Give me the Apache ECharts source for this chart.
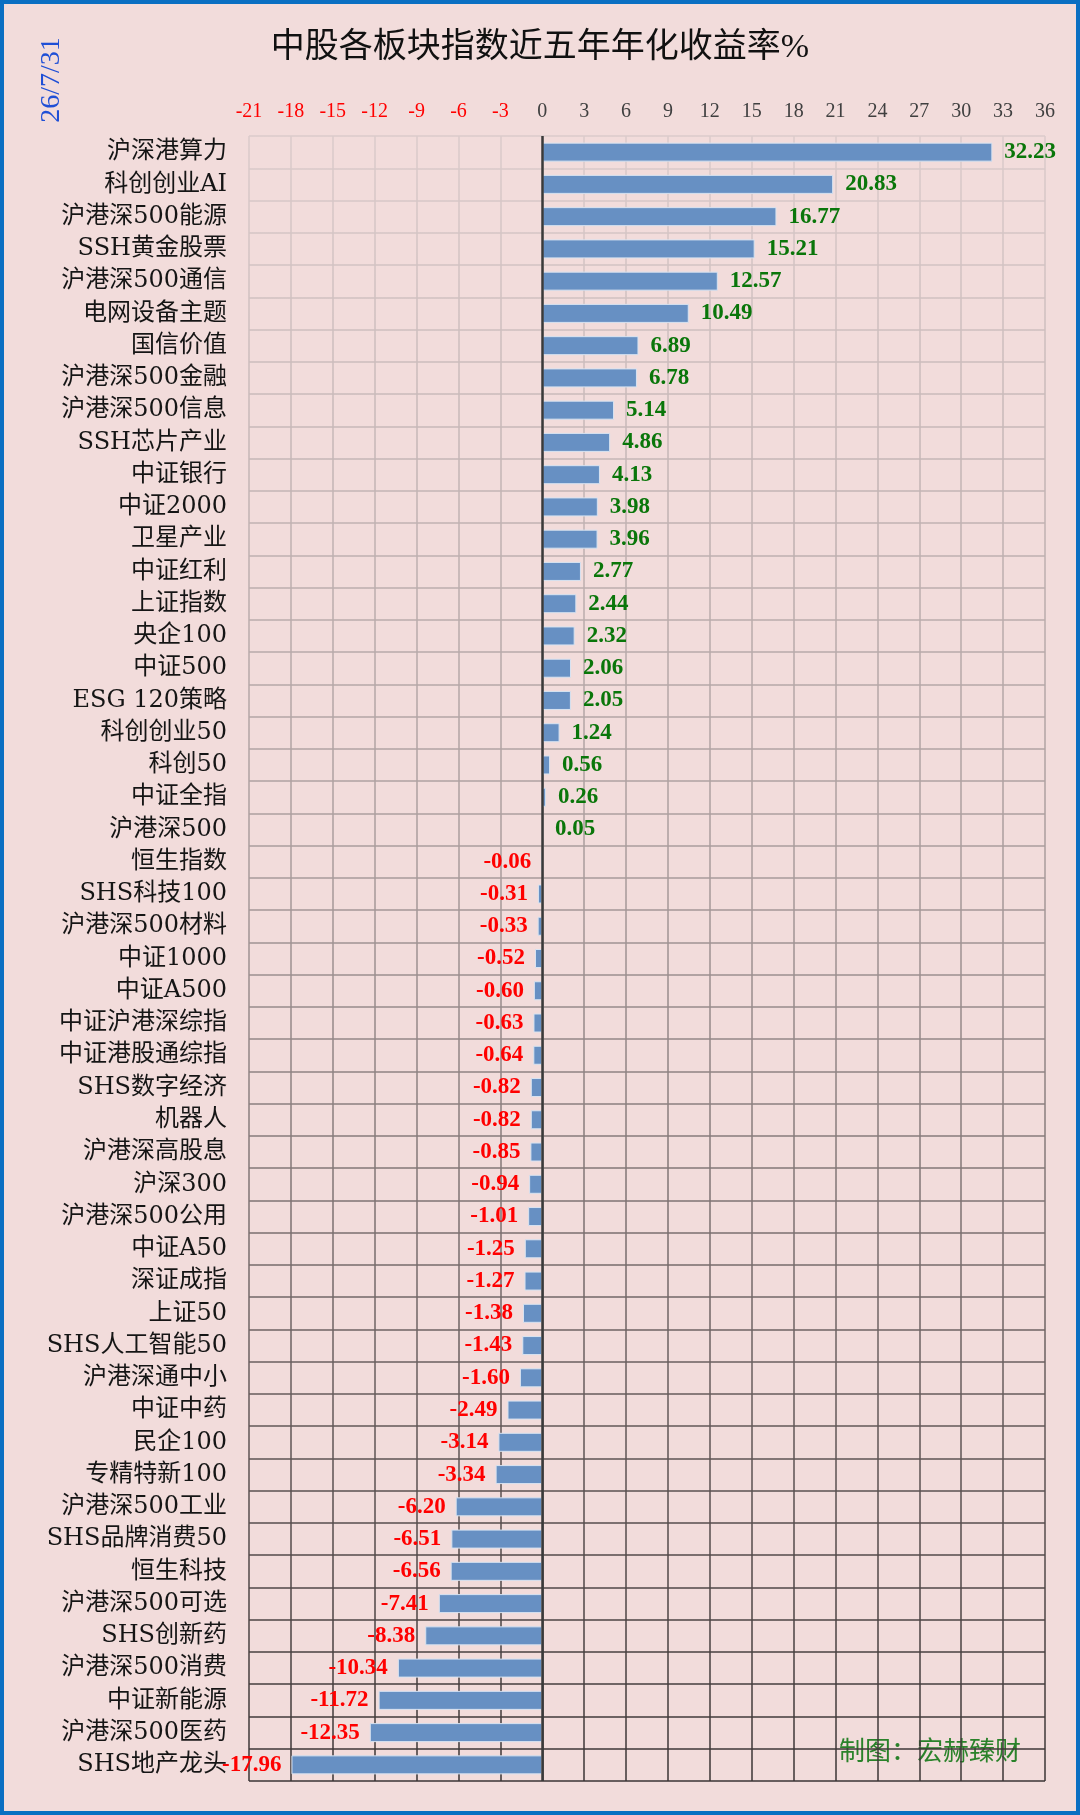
<!DOCTYPE html>
<html>
<head>
<meta charset="utf-8">
<title>中股各板块指数近五年年化收益率%</title>
<script src="https://cdn.jsdelivr.net/npm/echarts@6/dist/echarts.min.js"></script>
<style>
    html, body { margin: 0; padding: 0; background: #f2dcdb; }
    #main { width: 1080px; height: 1815px; }
</style>
</head>
<body>
<div id="main"></div>
<script>
// 板块名称（从上到下）
var categories = [
    '沪深港算力', '科创创业AI', '沪港深500能源', 'SSH黄金股票', '沪港深500通信',
    '电网设备主题', '国信价值', '沪港深500金融', '沪港深500信息', 'SSH芯片产业',
    '中证银行', '中证2000', '卫星产业', '中证红利', '上证指数',
    '央企100', '中证500', 'ESG 120策略', '科创创业50', '科创50',
    '中证全指', '沪港深500', '恒生指数', 'SHS科技100', '沪港深500材料',
    '中证1000', '中证A500', '中证沪港深综指', '中证港股通综指', 'SHS数字经济',
    '机器人', '沪港深高股息', '沪深300', '沪港深500公用', '中证A50',
    '深证成指', '上证50', 'SHS人工智能50', '沪港深通中小', '中证中药',
    '民企100', '专精特新100', '沪港深500工业', 'SHS品牌消费50', '恒生科技',
    '沪港深500可选', 'SHS创新药', '沪港深500消费', '中证新能源', '沪港深500医药',
    'SHS地产龙头'
];

// 近五年年化收益率 %
var returns = [
    32.23, 20.83, 16.77, 15.21, 12.57,
    10.49, 6.89, 6.78, 5.14, 4.86,
    4.13, 3.98, 3.96, 2.77, 2.44,
    2.32, 2.06, 2.05, 1.24, 0.56,
    0.26, 0.05, -0.06, -0.31, -0.33,
    -0.52, -0.60, -0.63, -0.64, -0.82,
    -0.82, -0.85, -0.94, -1.01, -1.25,
    -1.27, -1.38, -1.43, -1.60, -2.49,
    -3.14, -3.34, -6.20, -6.51, -6.56,
    -7.41, -8.38, -10.34, -11.72, -12.35,
    -17.96
];

// 横轴刻度
var axisMin = -21;
var axisMax = 36;
var axisStep = 3;

var dateText = '26/7/31';
var footText = '制图：宏赫臻财';

var myChart = echarts.init(document.getElementById('main'), null, { renderer: 'canvas' });

// 网格线上浅下深
var gridColor = {
    type: 'linear', x: 0, y: 136, x2: 0, y2: 1781, global: true,
    colorStops: [
        { offset: 0, color: '#dbcbcb' },
        { offset: 0.45, color: '#a89b9b' },
        { offset: 0.8, color: '#5e5454' },
        { offset: 1, color: '#3a3434' }
    ]
};

var barData = returns.map(function (v) {
    return {
        value: v,
        label: {
            position: v < 0 ? 'left' : 'right',
            distance: v < 0 ? 10 : 12,
            color: v < 0 ? '#ff0000' : '#0a760a'
        }
    };
});

var option = {
    backgroundColor: '#f2dcdb',
    animation: false,
    title: {
        text: '中股各板块指数近五年年化收益率%',
        left: 'center',
        top: 26,
        textStyle: {
            fontFamily: 'Liberation Serif, Noto Sans CJK SC',
            fontSize: 34,
            fontWeight: 'normal',
            color: '#111'
        }
    },
    grid: {
        left: 249,
        right: 35,
        top: 136,
        bottom: 34
    },
    xAxis: {
        type: 'value',
        position: 'top',
        min: axisMin,
        max: axisMax,
        interval: axisStep,
        axisLine: { show: false },
        axisTick: { show: false },
        axisLabel: {
            margin: 14,
            fontFamily: 'Liberation Serif',
            fontSize: 20,
            color: function (value) {
                return value < 0 ? '#ff0000' : '#404040';
            }
        },
        splitLine: {
            show: true,
            lineStyle: { color: gridColor, width: 1.5 }
        }
    },
    yAxis: {
        type: 'category',
        inverse: true,
        data: categories,
        axisLine: { show: false },
        axisTick: { show: false },
        axisLabel: {
            interval: 0,
            margin: 22,
            fontFamily: 'DejaVu Serif, Noto Sans CJK SC',
            fontSize: 24,
            color: '#151515'
        },
        splitLine: {
            show: true,
            interval: 0,
            lineStyle: { color: gridColor, width: 1.5 }
        }
    },
    series: [{
        type: 'bar',
        data: barData,
        barWidth: 19,
        itemStyle: {
            color: '#6790c3',
            borderColor: '#d8e3f1',
            borderWidth: 1
        },
        label: {
            show: true,
            fontFamily: 'Liberation Serif',
            fontWeight: 'bold',
            fontSize: 23,
            formatter: function (p) {
                return p.value.toFixed(2);
            }
        },
        // 零轴竖线
        markLine: {
            silent: true,
            symbol: 'none',
            label: { show: false },
            lineStyle: { color: '#3a3a3a', width: 2.5, type: 'solid' },
            data: [{ xAxis: 0 }]
        }
    }],
    graphic: [
        {
            type: 'text',
            x: 52,
            y: 80,
            rotation: Math.PI / 2,
            style: {
                text: dateText,
                fontFamily: 'Liberation Serif',
                fontSize: 28,
                fill: '#1f4fd6',
                textAlign: 'center',
                textVerticalAlign: 'middle'
            }
        },
        {
            type: 'text',
            x: 930,
            y: 1750,
            style: {
                text: footText,
                fontFamily: 'Noto Sans CJK SC',
                fontSize: 26,
                fill: '#2a822a',
                textAlign: 'center',
                textVerticalAlign: 'middle'
            }
        },
        {
            type: 'rect',
            shape: { x: 2, y: 2, width: 1076, height: 1811 },
            style: { fill: 'none', stroke: '#0b6fc2', lineWidth: 4 },
            silent: true
        }
    ]
};

myChart.setOption(option);
</script>
</body>
</html>
